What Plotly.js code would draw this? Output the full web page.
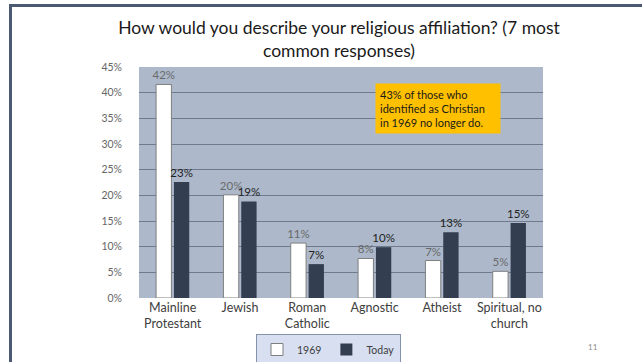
<!DOCTYPE html>
<html>
<head>
<meta charset="utf-8">
<script src="https://cdn.plot.ly/plotly-3.0.1.min.js"></script>
<style>
html,body{margin:0;padding:0;background:#fff;}
#chart{width:642px;height:362px;}
</style>
</head>
<body>
<div id="chart"></div>
<script>
var categories = ["Mainline<br>Protestant", "Jewish", "Roman<br>Catholic", "Agnostic", "Atheist", "Spiritual, no<br>church"];
var vals1969 = [0.416, 0.201, 0.107, 0.077, 0.073, 0.052];
var valsToday = [0.226, 0.188, 0.066, 0.099, 0.128, 0.146];
var seriesNames = ["1969", "Today"];
var titleText = "How would you describe your religious affiliation? (7 most<br>common responses)";
var noteText = "43% of those who<br>identified as Christian<br>in 1969 no longer do.";
var pageNumber = "11";

var FONT = "Lato, Calibri, 'Liberation Sans', sans-serif";

var traces = [
  {
    type: "bar", name: seriesNames[0], x: categories, y: vals1969,
    marker: {color: "#ffffff", line: {color: "#7f7f7f", width: 1}},
    texttemplate: "%{y:.0%}", textposition: "outside", constraintext: "none",
    outsidetextfont: {family: FONT, size: 11.5, color: "#6a6a6a"},
    cliponaxis: false, hoverinfo: "skip"
  },
  {
    type: "bar", name: seriesNames[1], x: categories, y: valsToday,
    marker: {color: "#333e50", line: {color: "#333e50", width: 0}},
    texttemplate: "%{y:.0%}", textposition: "outside", constraintext: "none",
    outsidetextfont: {family: FONT, size: 11.5, color: "#222222"},
    cliponaxis: false, hoverinfo: "skip"
  }
];

var layout = {
  width: 642, height: 362,
  margin: {l: 139, r: 99, t: 67, b: 64, pad: 0},
  paper_bgcolor: "#ffffff",
  plot_bgcolor: "#adb9cb",
  font: {family: FONT, color: "#404040"},
  title: {
    text: titleText,
    font: {family: FONT, size: 17.5, color: "#1a1a1a"},
    x: (339 - 139) / 404, xanchor: "center", xref: "paper",
    y: 1 - 34 / 362, yanchor: "middle", yref: "container"
  },
  barmode: "group",
  bargap: 0.47,
  bargroupgap: 0.14,
  showlegend: true,
  legend: {
    orientation: "h",
    xref: "paper", x: (256 - 139) / 404, xanchor: "left",
    yref: "container", y: (362 - 334) / 362, yanchor: "top",
    bgcolor: "#d7dff0", bordercolor: "#8593aa", borderwidth: 1,
    font: {family: FONT, size: 10.5, color: "#404040"},
    tracegroupgap: 0, itemwidth: 30
  },
  xaxis: {
    showgrid: false, zeroline: false, showline: false,
    ticks: "", tickfont: {family: FONT, size: 12.5, color: "#404040"},
    fixedrange: true
  },
  yaxis: {
    range: [0, 0.45], dtick: 0.05, tickformat: ".0%",
    showgrid: true, gridcolor: "#6f7a8c", gridwidth: 1,
    zeroline: false, showline: false,
    ticks: "", ticklen: 0, ticklabelstandoff: 16,
    tickfont: {family: FONT, size: 10.5, color: "#666666"},
    fixedrange: true
  },
  annotations: [
    {
      text: noteText, showarrow: false,
      xref: "paper", yref: "paper",
      x: 0.584, xanchor: "left",
      y: 0.932, yanchor: "top",
      width: 116, height: 41,
      align: "left", valign: "middle",
      bgcolor: "#ffc000", borderpad: 4,
      font: {family: FONT, size: 11, color: "#1a1a1a"}
    },
    {
      text: pageNumber, showarrow: false,
      xref: "paper", yref: "paper",
      x: (593 - 139) / 404, y: (298 - 347) / 231, xanchor: "center", yanchor: "middle",
      font: {family: FONT, size: 8, color: "#8c8c8c"}
    }
  ],
  shapes: [
    {type: "rect", xref: "paper", yref: "paper",
     x0: (9 - 139) / 404, x1: (642 - 139) / 404,
     y0: (298 - 4) / 231, y1: (298 - 7) / 231,
     fillcolor: "#4b5a72", line: {width: 0}, layer: "above"},
    {type: "rect", xref: "paper", yref: "paper",
     x0: (9 - 139) / 404, x1: (12 - 139) / 404,
     y0: (298 - 4) / 231, y1: (298 - 362) / 231,
     fillcolor: "#4b5a72", line: {width: 0}, layer: "above"}
  ]
};

Plotly.newPlot("chart", traces, layout, {displayModeBar: false, staticPlot: true});
</script>
</body>
</html>
